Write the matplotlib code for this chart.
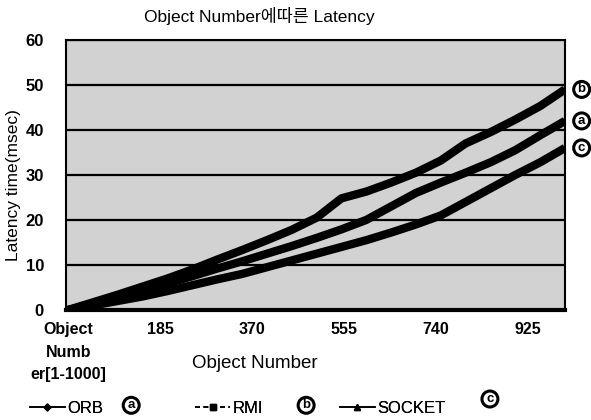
import matplotlib
matplotlib.use("Agg")
import matplotlib.pyplot as plt
from matplotlib.lines import Line2D

plt.rcParams['font.family'] = ['Liberation Sans', 'Noto Sans CJK KR', 'DejaVu Sans']

# object number samples
object_number = [0, 50, 100, 150, 200, 250, 300, 350, 400, 450, 500,
                 550, 600, 650, 700, 750, 800, 850, 900, 950, 1000]

# latency (msec)
orb = [0, 1.4, 2.8, 4.3, 5.9, 7.5, 9.2, 10.8, 12.5, 14.2, 16.0,
       17.9, 20.0, 23.0, 26.0, 28.3, 30.5, 32.8, 35.5, 38.8, 42.0]
rmi = [0, 1.7, 3.4, 5.2, 7.0, 9.0, 11.2, 13.3, 15.5, 17.8, 20.5,
       24.8, 26.3, 28.3, 30.5, 33.2, 37.0, 39.5, 42.3, 45.3, 49.0]
socket = [0, 1.0, 2.0, 3.0, 4.2, 5.5, 6.8, 8.0, 9.5, 11.0, 12.5,
          14.0, 15.5, 17.2, 19.0, 21.0, 24.0, 27.0, 30.0, 32.8, 36.0]

series_names = ["ORB", "RMI", "SOCKET"]
series_tags = ["a", "b", "c"]

x_ticks = [0, 185, 370, 555, 740, 925]
x_tick_labels = ["Object\nNumb\ner[1-1000]", "185", "370", "555", "740", "925"]
y_ticks = [0, 10, 20, 30, 40, 50, 60]

fig = plt.figure(figsize=(5.91, 4.2), dpi=100)
ax = fig.add_axes([0.112, 0.262, 0.844, 0.643])
ax.set_facecolor('#d2d2d2')

for series in (socket, orb, rmi):
    ax.plot(object_number, series, color='black', lw=6, solid_capstyle='butt', zorder=3)

ax.set_xlim(-4, 1000)
ax.set_ylim(0, 60)
ax.set_yticks(y_ticks)
ax.set_xticks(x_ticks)
ax.set_xticklabels(x_tick_labels, fontweight='bold', fontsize=11.5, linespacing=1.6)
ax.set_yticklabels([str(v) for v in y_ticks], fontweight='bold', fontsize=12)
ax.tick_params(axis='both', length=0)
ax.tick_params(axis='y', pad=16)
ax.tick_params(axis='x', pad=9)
ax.grid(axis='y', color='black', lw=1.6, zorder=1)
ax.set_axisbelow(True)
for side in ('left', 'top', 'right'):
    ax.spines[side].set_linewidth(1.5)
ax.spines['bottom'].set_linewidth(3)

fig.text(0.438, 0.963, "Object Number에따른 Latency", ha='center', va='center', fontsize=12.5)
fig.text(0.432, 0.135, "Object Number", ha='center', va='center', fontsize=13.5)
fig.text(0.022, 0.56, "Latency time(msec)", ha='center', va='center', rotation=90, fontsize=12.5)

# circled tags at line ends
circ = dict(boxstyle='circle,pad=0.15', fc='white', ec='black', lw=2.2)
for label, val in (("b", rmi[-1]), ("a", orb[-1]), ("c", socket[-1])):
    ax.annotate(label, xy=(1000, val), xytext=(12, 0), textcoords='offset points',
                ha='center', va='center', fontsize=9.5, fontweight='bold',
                bbox=circ, annotation_clip=False)

# legend: one entry per block, each followed by its circled tag
handles = [
    Line2D([], [], color='black', lw=1.2, ls='-', marker='D', markersize=3.5),
    Line2D([], [], color='black', lw=1.2, ls=(0, (3, 2)), marker='s', markersize=4),
    Line2D([], [], color='black', lw=1.2, ls='-', marker='^', markersize=4.5),
]
legend_x = [0.05, 0.33, 0.575]
tag_pos = [(0.222, 0.035), (0.518, 0.035), (0.829, 0.05)]
for h, name, lx, tag, (tx, ty) in zip(handles, series_names, legend_x, series_tags, tag_pos):
    leg = fig.legend([h], [name], loc='center left', bbox_to_anchor=(lx, 0.028),
                     frameon=False, fontsize=12, handlelength=2.1, handletextpad=0.15,
                     borderpad=0, borderaxespad=0)
    fig.add_artist(leg)
    fig.text(tx, ty, tag, ha='center', va='center', fontsize=9.5, fontweight='bold', bbox=circ)

fig.savefig("out.png", dpi=100)
